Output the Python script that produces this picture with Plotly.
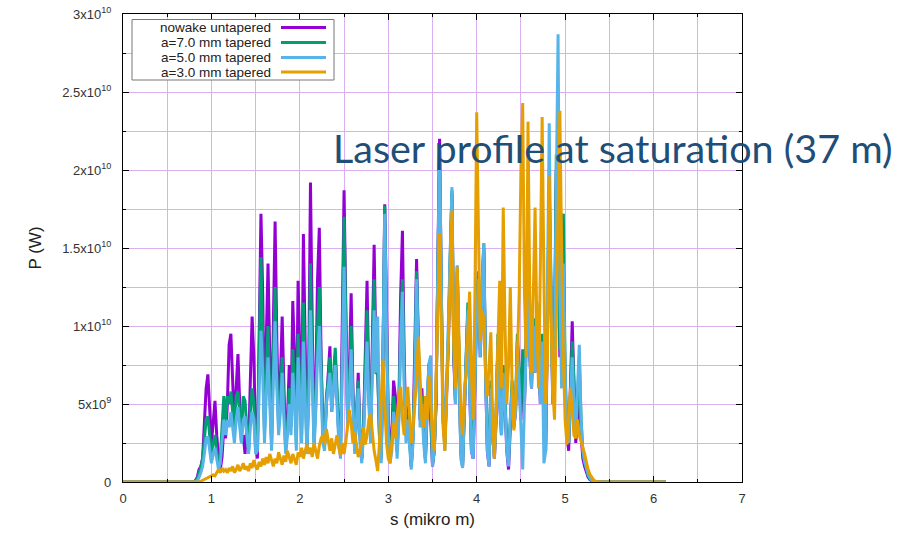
import numpy as np
import plotly.graph_objects as go

# Sampling of the radiation pulse along the bunch (micrometres)
S_START = 0.80
S_STEP = 0.02
S_FLAT_BEGIN = 0.0   # power is zero from here up to S_START
S_FLAT_END = 6.14    # power stays zero from the end of the pulse up to here

# Power profiles in GW, one value per sample from 0.80 to 5.40 um
P_NOWAKE = [
    0.0, 0.1, 0.3, 0.8, 1.0, 1.5, 3.5, 6.0, 6.9, 4.5,
    2.5, 3.8, 5.2, 3.0, 1.5, 0.8, 1.6, 3.5, 2.8, 5.0,
    8.8, 9.5, 7.0, 3.5, 6.0, 8.2, 5.0, 2.5, 3.0, 1.8,
    3.5, 2.0, 6.5, 10.6, 8.0, 2.5, 1.5, 9.0, 17.2, 12.0,
    3.5, 9.0, 14.0, 8.0, 2.5, 10.0, 16.7, 9.0, 4.0, 6.5,
    10.6, 6.0, 2.5, 4.0, 7.5, 4.0, 11.6, 8.0, 3.0, 12.9,
    7.0, 3.5, 15.9, 9.0, 2.0, 7.0, 19.2, 10.0, 3.0, 6.0,
    13.0, 16.3, 8.0, 3.5, 2.5, 5.0, 7.0, 8.7, 4.5, 6.0,
    8.0, 5.5, 3.0, 2.0, 9.0, 18.7, 11.0, 4.0, 7.0, 12.1,
    6.0, 2.0, 4.0, 7.0, 3.0, 1.5, 3.5, 8.0, 12.9, 6.0,
    3.0, 9.0, 15.2, 8.0, 7.5, 3.0, 1.5, 8.0, 17.8, 11.0,
    4.0, 2.0, 3.0, 6.5, 5.5, 2.0, 5.0, 12.0, 16.1, 8.0,
    3.0, 5.0, 2.5, 1.0, 3.0, 8.0, 14.3, 9.0, 4.0, 6.0,
    3.0, 1.5, 5.0, 7.6, 4.0, 1.0, 2.0, 5.0, 14.0, 22.0,
    12.0, 4.0, 2.5, 6.0, 9.0, 14.0, 18.5, 8.0, 5.0, 13.5,
    7.0, 2.0, 1.0, 4.0, 8.0, 11.0, 6.0, 2.0, 1.5, 6.0,
    11.0, 13.0, 8.0, 12.0, 15.0, 7.0, 2.0, 1.0, 6.0, 3.0,
    1.5, 4.0, 9.0, 5.0, 3.0, 7.0, 5.0, 2.0, 0.8, 3.5,
    6.0, 3.5, 4.5, 9.0, 6.0, 4.0, 8.0, 5.0, 9.0, 12.0,
    8.0, 6.0, 10.0, 7.0, 11.0, 8.0, 5.0, 9.0, 4.0, 2.0,
    10.0, 18.0, 12.0, 5.0, 9.0, 20.0, 16.0, 8.0, 15.0, 13.0,
    6.0, 3.0, 2.0, 6.0, 10.3, 6.0, 2.5, 4.0, 6.0, 3.0,
    1.5, 1.0, 0.6, 0.3, 0.15, 0.05, 0.0, 0.0, 0.0, 0.0,
    0.0,
]

P_A7 = [
    0.0, 0.05, 0.2, 0.6, 0.9, 1.5, 2.8, 4.0, 4.2, 3.0,
    1.8, 2.5, 3.0, 2.0, 1.2, 1.5, 3.5, 5.5, 4.0, 5.5,
    5.0, 5.8, 4.5, 3.5, 5.5, 5.8, 4.5, 3.0, 5.5, 5.2,
    3.5, 2.0, 4.5, 6.0, 5.0, 2.0, 2.5, 8.0, 14.4, 9.0,
    3.0, 7.0, 10.0, 6.0, 2.5, 8.0, 12.5, 7.0, 3.5, 5.5,
    8.0, 5.0, 2.0, 3.5, 6.0, 3.5, 8.5, 6.0, 2.5, 9.5,
    6.0, 3.0, 11.5, 7.0, 2.0, 6.0, 14.0, 8.0, 2.5, 5.0,
    10.0, 12.5, 6.5, 3.0, 2.5, 5.5, 6.5, 8.0, 5.0, 7.0,
    8.6, 6.0, 3.0, 2.0, 8.0, 17.0, 10.0, 4.0, 6.0, 10.0,
    5.5, 2.0, 4.5, 6.5, 3.0, 1.5, 3.5, 7.0, 11.0, 5.5,
    3.0, 8.0, 13.0, 7.0, 7.0, 3.0, 1.5, 8.0, 17.7, 10.0,
    3.5, 1.8, 2.5, 5.5, 4.5, 2.0, 4.5, 10.0, 13.0, 7.0,
    3.0, 4.5, 2.5, 1.0, 3.0, 7.0, 13.5, 8.0, 4.0, 5.5,
    3.0, 1.5, 5.0, 7.5, 4.5, 1.2, 2.0, 5.0, 13.5, 21.3,
    12.0, 4.0, 2.5, 6.0, 9.5, 14.5, 18.7, 8.5, 5.0, 13.8,
    7.0, 2.0, 1.0, 4.0, 8.0, 11.5, 6.5, 2.5, 2.0, 6.5,
    11.5, 13.5, 8.5, 12.5, 15.3, 7.5, 2.5, 1.5, 6.5, 3.5,
    2.0, 4.5, 9.5, 5.5, 3.5, 7.5, 5.5, 2.5, 1.5, 4.0,
    6.5, 4.0, 5.0, 9.5, 6.5, 4.5, 8.5, 5.5, 9.5, 12.5,
    8.5, 6.5, 10.5, 7.5, 11.5, 8.5, 5.5, 9.5, 4.5, 2.5,
    10.5, 19.0, 12.5, 5.5, 9.5, 21.0, 17.0, 8.5, 16.0, 17.2,
    7.0, 3.5, 2.5, 6.0, 9.0, 6.5, 3.0, 5.0, 8.0, 4.0,
    2.0, 1.3, 0.8, 0.4, 0.2, 0.1, 0.03, 0.0, 0.0, 0.0,
    0.0,
]

P_A5 = [
    0.0, 0.0, 0.1, 0.3, 0.6, 1.0, 1.8, 2.8, 2.9, 2.0,
    1.2, 1.8, 2.2, 1.5, 0.8, 1.2, 2.5, 4.0, 3.0, 4.0,
    3.5, 4.5, 3.5, 2.5, 4.0, 4.8, 3.5, 2.5, 4.0, 4.2,
    3.0, 1.8, 3.5, 4.5, 4.0, 1.8, 2.0, 6.0, 9.7, 7.0,
    2.5, 5.5, 8.0, 5.0, 2.0, 6.5, 10.3, 6.0, 3.0, 4.5,
    7.0, 4.0, 1.8, 3.0, 5.0, 3.0, 7.0, 5.0, 2.0, 8.0,
    5.0, 2.5, 9.0, 6.0, 1.8, 5.0, 11.0, 7.0, 2.0, 4.5,
    8.0, 10.0, 5.5, 2.5, 2.0, 5.0, 6.0, 7.0, 4.5, 6.0,
    7.5, 5.0, 2.5, 1.5, 7.0, 13.8, 8.5, 3.5, 5.5, 8.5,
    5.0, 1.8, 4.0, 6.0, 2.5, 1.2, 3.0, 6.0, 9.0, 5.0,
    2.5, 7.0, 11.0, 7.0, 10.6, 4.0, 1.2, 8.0, 17.2, 9.5,
    3.0, 1.2, 2.0, 4.5, 3.5, 1.5, 4.0, 9.0, 12.2, 6.0,
    2.5, 4.0, 2.0, 0.8, 2.5, 6.5, 13.0, 7.5, 3.5, 5.0,
    2.5, 1.2, 5.5, 7.6, 8.1, 1.0, 2.0, 5.5, 14.0, 21.5,
    12.5, 4.0, 2.0, 6.5, 10.0, 15.0, 18.9, 9.0, 5.0, 13.9,
    7.0, 1.5, 0.9, 4.0, 8.0, 11.0, 6.0, 2.0, 1.5, 6.5,
    11.0, 13.0, 8.0, 12.5, 15.3, 7.0, 2.0, 1.0, 6.0, 3.0,
    1.5, 4.0, 9.0, 5.0, 3.0, 7.0, 5.0, 2.0, 1.0, 4.0,
    6.0, 3.5, 4.5, 9.0, 6.0, 3.0, 0.8, 5.0, 9.0, 12.0,
    8.0, 6.0, 10.0, 7.0, 11.0, 8.0, 5.0, 9.0, 1.2, 2.0,
    12.0, 23.0, 12.0, 5.0, 9.0, 18.0, 28.7, 12.0, 6.0, 14.0,
    7.0, 3.0, 2.5, 5.5, 8.0, 5.0, 3.0, 6.0, 8.8, 4.0,
    2.0, 1.3, 0.8, 0.5, 0.25, 0.1, 0.03, 0.0, 0.0, 0.0,
    0.0,
]

P_A3 = [
    0.0, 0.0, 0.0, 0.02, 0.05, 0.1, 0.15, 0.2, 0.25, 0.3,
    0.35, 0.45, 0.4, 0.6, 0.8, 0.6, 0.9, 0.7, 0.8, 0.6,
    0.9, 0.7, 1.0, 0.6, 0.8, 1.1, 0.7, 0.9, 1.2, 0.8,
    1.0, 0.7, 1.2, 0.9, 1.4, 1.0, 0.8, 1.3, 1.0, 1.5,
    1.1, 1.6, 1.2, 1.8, 1.3, 1.0, 1.5, 1.2, 1.9, 1.4,
    1.1, 1.7, 1.3, 2.0, 1.5, 1.2, 1.8, 1.4, 1.1, 1.9,
    1.6, 2.2, 1.5, 2.0, 2.4, 1.8, 2.2, 1.6, 2.5, 2.0,
    1.5, 2.3, 2.8, 3.0, 2.4, 3.4, 2.6, 2.0, 2.8, 1.8,
    2.4, 3.0, 2.2, 1.7, 2.5, 1.8, 2.6, 3.5, 4.6, 3.8,
    2.5, 3.2, 2.2, 1.6, 2.0, 2.6, 3.5, 2.4, 3.0, 4.0,
    4.4, 3.2, 2.0, 1.4, 0.7, 2.5, 5.0, 7.8, 5.0, 2.5,
    1.5, 1.2, 2.5, 3.8, 2.8, 4.0, 5.5, 6.1, 4.0, 3.0,
    5.0, 6.1, 4.0, 2.5, 3.5, 5.0, 6.5, 9.3, 6.0, 4.0,
    3.5, 5.5, 4.0, 6.8, 5.0, 3.0, 2.0, 6.0, 11.0, 15.9,
    9.0, 3.5, 2.0, 5.0, 9.0, 13.0, 17.4, 9.0, 6.0, 13.8,
    8.0, 4.5, 3.0, 5.7, 7.0, 10.0, 12.2, 7.0, 4.0, 12.0,
    23.7, 16.0, 9.0, 11.0, 10.4, 7.0, 5.5, 7.5, 9.6, 4.0,
    1.5, 5.0, 10.0, 12.9, 6.0, 17.6, 10.0, 5.0, 7.5, 12.5,
    6.0, 3.3, 5.5, 8.0, 12.0, 20.0, 24.3, 12.0, 8.0, 23.1,
    12.0, 7.0, 12.0, 17.6, 10.0, 6.0, 14.0, 23.4, 13.0, 5.0,
    8.0, 19.6, 11.0, 6.0, 4.0, 10.0, 16.0, 23.8, 15.0, 8.0,
    4.0, 2.4, 4.0, 6.0, 4.5, 3.0, 2.8, 4.0, 3.0, 2.5,
    2.2, 1.8, 1.2, 0.8, 0.5, 0.3, 0.15, 0.05, 0.0, 0.0,
    0.0,
]

SERIES_NAMES = ["nowake untapered", "a=7.0 mm tapered", "a=5.0 mm tapered", "a=3.0 mm tapered"]
SERIES_COLORS = ["#9400d3", "#009e73", "#56b4e9", "#e69f00"]
SERIES_POWER = [P_NOWAKE, P_A7, P_A5, P_A3]

X_TICK_VALUES = [0, 1, 2, 3, 4, 5, 6, 7]
Y_TICK_VALUES = [0, 5e9, 1e10, 1.5e10, 2e10, 2.5e10, 3e10]
Y_TICK_TEXT = ["0", "5x10<sup>9</sup>", "1x10<sup>10</sup>", "1.5x10<sup>10</sup>",
               "2x10<sup>10</sup>", "2.5x10<sup>10</sup>", "3x10<sup>10</sup>"]

TITLE_TEXT = "Laser profile at saturation (37 m)"

# ---- figure geometry (pixels) ----
W, H = 911, 533
M_L, M_R, M_T, M_B = 123, 169, 14, 51
PLOT_W = W - M_L - M_R
PLOT_H = H - M_T - M_B


def px_x(px):
    return (px - M_L) / PLOT_W


def px_y(py):
    return (H - M_B - py) / PLOT_H


n = len(P_NOWAKE)
assert all(len(p) == n for p in SERIES_POWER)
s = np.round(S_START + S_STEP * np.arange(n), 2)
s_full = np.concatenate([[S_FLAT_BEGIN], s, [S_FLAT_END]])

GRID = "#dcaef2"
FONT = "Liberation Sans, Arial, sans-serif"
LINE_W = 3.0

fig = go.Figure()
for name, color, power in zip(SERIES_NAMES, SERIES_COLORS, SERIES_POWER):
    p_full = np.concatenate([[0.0], np.asarray(power, dtype=float), [0.0]]) * 1e9
    fig.add_trace(go.Scatter(
        x=s_full, y=p_full, mode="lines", name=name,
        line=dict(color=color, width=LINE_W), showlegend=False,
    ))

axis_common = dict(
    showline=True, linecolor="black", linewidth=1.2, mirror="allticks",
    ticks="inside", ticklen=6, tickcolor="black", tickwidth=1,
    showgrid=True, gridcolor=GRID, gridwidth=1, zeroline=False,
    tickfont=dict(family=FONT, size=13, color="#333333"),
    automargin=False,
)

fig.update_xaxes(
    **axis_common, range=[0, 7], tickvals=X_TICK_VALUES,
    minor=dict(dtick=0.5, ticks="inside", ticklen=3, tickcolor="black",
               showgrid=True, gridcolor=GRID),
    title=dict(text="s (mikro m)", font=dict(family=FONT, size=17, color="#222222"), standoff=8),
    ticklabelstandoff=4,
)
fig.update_yaxes(
    **axis_common, range=[0, 3e10], tickvals=Y_TICK_VALUES, ticktext=Y_TICK_TEXT,
    minor=dict(dtick=2.5e9, ticks="inside", ticklen=3, tickcolor="black",
               showgrid=True, gridcolor=GRID),
    title=dict(text="P (W)", font=dict(family=FONT, size=17, color="#222222"), standoff=16),
    ticklabelstandoff=8,
)

# ---- key box in the upper left, text right-aligned with line samples ----
shapes = [dict(type="rect", xref="paper", yref="paper",
               x0=px_x(132), x1=px_x(334), y0=px_y(80), y1=px_y(19.5),
               line=dict(color="#777777", width=1), fillcolor="white", layer="above")]
annotations = []
row_y = [27.5, 42.5, 57.5, 72.0]
for name, color, ry in zip(SERIES_NAMES, SERIES_COLORS, row_y):
    annotations.append(dict(
        text=name, xref="paper", yref="paper", x=px_x(273), y=px_y(ry),
        xanchor="right", yanchor="middle", showarrow=False,
        font=dict(family=FONT, size=13.5, color="#222222"),
    ))
    shapes.append(dict(type="line", xref="paper", yref="paper",
                       x0=px_x(281), x1=px_x(326), y0=px_y(ry), y1=px_y(ry),
                       line=dict(color=color, width=LINE_W), layer="above"))

annotations.append(dict(
    text=TITLE_TEXT, xref="paper", yref="paper", x=px_x(331), y=px_y(147),
    xanchor="left", yanchor="middle", showarrow=False,
    font=dict(family="Lato, Open Sans, sans-serif", size=39.5, color="#1f4e79"),
))

fig.update_layout(
    width=W, height=H,
    margin=dict(l=M_L, r=M_R, t=M_T, b=M_B),
    paper_bgcolor="white", plot_bgcolor="white",
    shapes=shapes, annotations=annotations,
    showlegend=False,
)

fig.write_html("out.html")
